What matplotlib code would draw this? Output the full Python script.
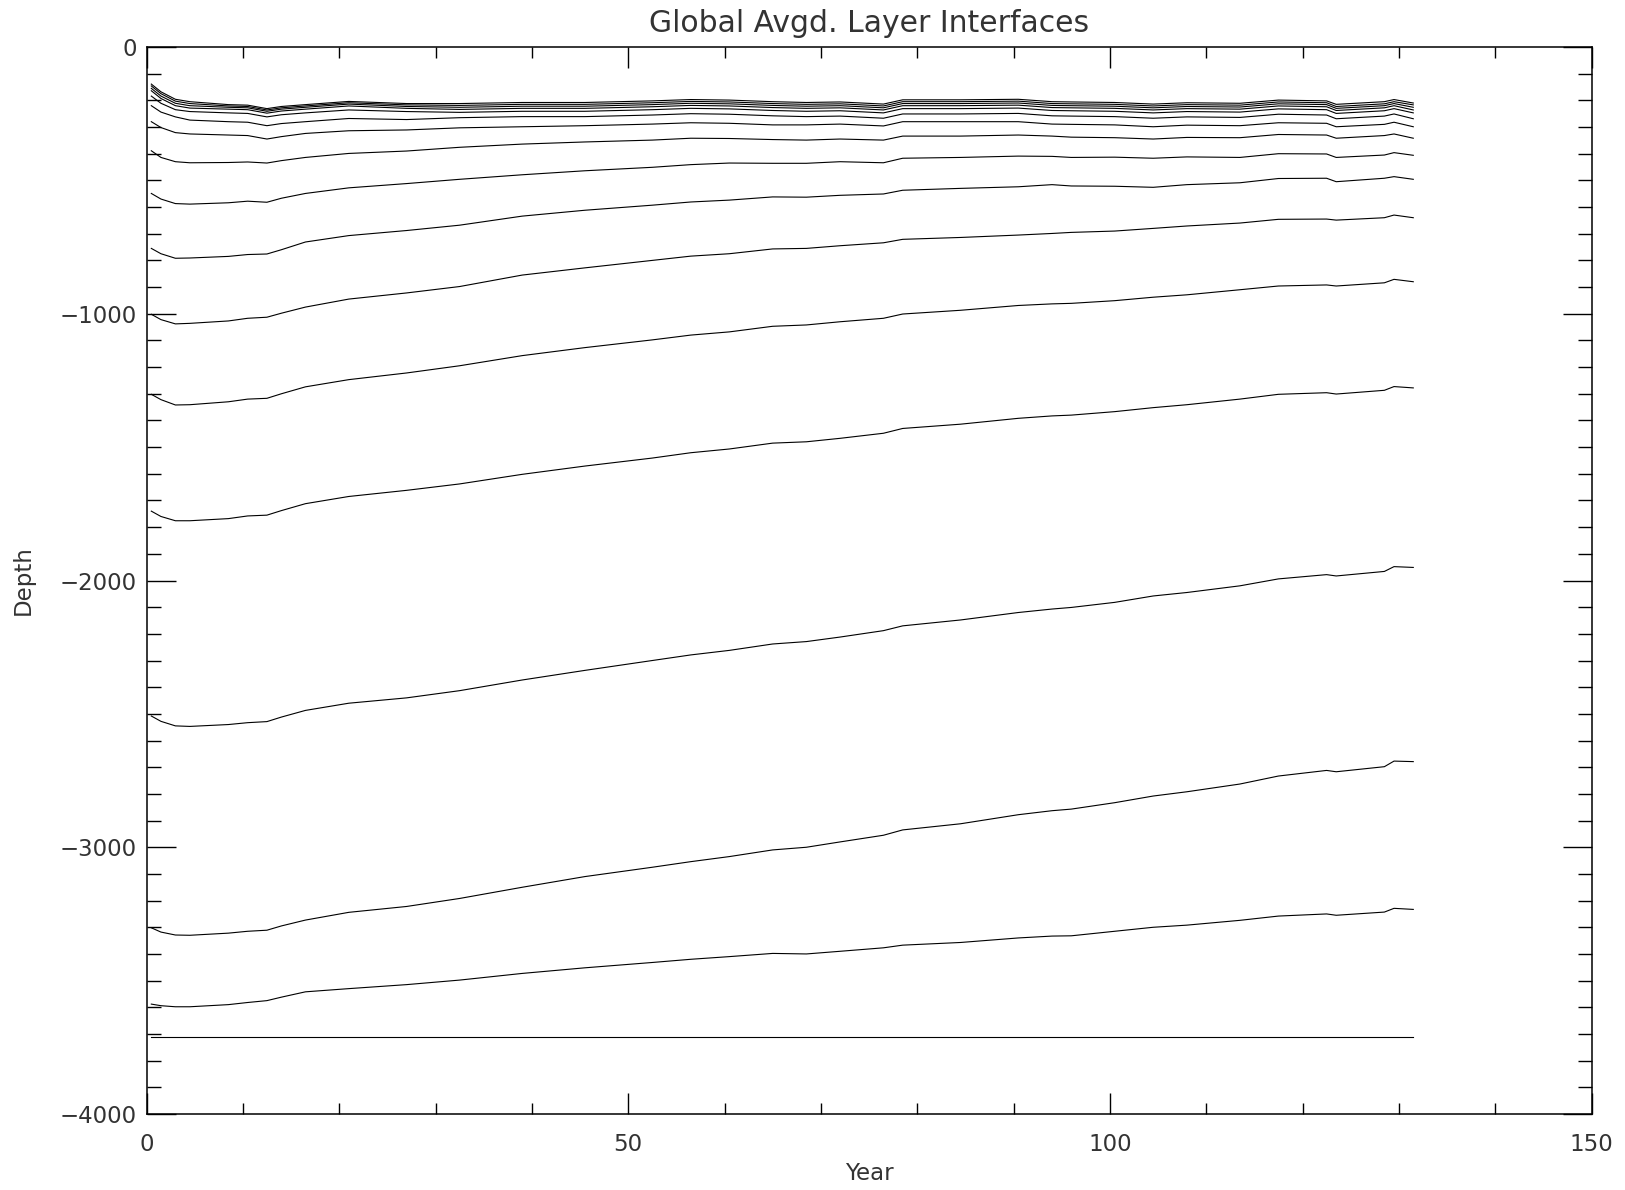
import matplotlib
matplotlib.use("Agg")
import matplotlib.pyplot as plt
from matplotlib.ticker import MultipleLocator

# model years (annual means) shared by all interfaces
years = [0.5, 1.5, 3, 4.5, 8.5, 10.5, 12.5, 14, 16.5, 21, 27, 32.5,
         39, 45.5, 52.5, 56.5, 60.5, 65, 68.5, 72, 76.5, 78.5, 84.5, 90.5,
         94, 96, 100.5, 104.5, 108, 113.5, 117.5, 122.5, 123.5, 128.5, 129.5, 131.5]

# interface depths (m), shallowest first
layer_01 = [-139, -168, -196, -205, -216, -218, -231, -223, -216, -204, -212, -212,
            -208, -208, -202, -197, -199, -205, -208, -206, -214, -198, -198, -196,
            -205, -206, -208, -214, -209, -211, -199, -202, -215, -205, -197, -210]
layer_02 = [-146, -175, -203, -212, -221, -223, -236, -228, -221, -209, -217, -219,
            -215, -215, -209, -204, -206, -212, -215, -213, -221, -205, -205, -203,
            -212, -213, -215, -221, -216, -218, -206, -209, -223, -213, -205, -217]
layer_03 = [-155, -184, -211, -220, -226, -228, -241, -233, -226, -214, -223, -226,
            -222, -222, -216, -211, -213, -219, -222, -220, -228, -212, -212, -210,
            -219, -220, -222, -228, -223, -225, -213, -216, -230, -220, -212, -226]
layer_04 = [-164, -193, -220, -229, -233, -235, -248, -240, -233, -221, -230, -234,
            -230, -230, -224, -219, -221, -227, -230, -228, -236, -220, -220, -218,
            -227, -228, -230, -236, -231, -233, -221, -224, -238, -228, -220, -236]
layer_05 = [-184, -211, -235, -242, -247, -249, -262, -254, -247, -236, -242, -245,
            -241, -241, -235, -230, -232, -238, -241, -239, -247, -231, -231, -229,
            -238, -239, -241, -247, -242, -244, -232, -235, -249, -239, -231, -247]
layer_06 = [-220, -244, -262, -274, -280, -282, -295, -287, -280, -268, -272, -265,
            -261, -261, -255, -250, -252, -258, -261, -259, -267, -251, -251, -249,
            -258, -259, -261, -267, -262, -264, -252, -255, -269, -259, -251, -269]
layer_07 = [-280, -302, -321, -326, -330, -332, -345, -336, -324, -314, -311, -303,
            -299, -295, -289, -284, -286, -292, -292, -289, -296, -280, -280, -280,
            -289, -290, -292, -299, -293, -295, -284, -286, -299, -290, -282, -299]
layer_08 = [-389, -414, -430, -434, -433, -431, -435, -426, -414, -399, -390, -376,
            -364, -356, -349, -342, -343, -347, -349, -345, -349, -334, -334, -330,
            -334, -338, -340, -345, -339, -340, -328, -330, -342, -332, -326, -342]
layer_09 = [-549, -570, -587, -589, -584, -578, -582, -567, -549, -528, -512, -496,
            -479, -464, -451, -441, -435, -436, -436, -430, -434, -417, -414, -409,
            -410, -414, -413, -417, -412, -414, -400, -401, -414, -405, -396, -406]
layer_10 = [-755, -775, -792, -791, -785, -778, -776, -760, -731, -707, -688, -668,
            -634, -612, -593, -581, -574, -562, -563, -556, -551, -537, -530, -524,
            -516, -521, -522, -526, -516, -509, -493, -492, -505, -492, -486, -496]
layer_11 = [-1002, -1022, -1038, -1036, -1027, -1017, -1013, -998, -975, -945, -922, -898,
            -855, -828, -800, -784, -775, -757, -755, -745, -734, -721, -714, -705,
            -699, -695, -690, -680, -671, -660, -646, -645, -649, -640, -630, -640]
layer_12 = [-1302, -1322, -1342, -1341, -1330, -1320, -1317, -1300, -1274, -1247, -1222, -1195,
            -1157, -1127, -1098, -1080, -1068, -1047, -1042, -1030, -1017, -1001, -987, -969,
            -963, -961, -951, -938, -929, -910, -896, -892, -896, -884, -871, -880]
layer_13 = [-1740, -1760, -1776, -1776, -1768, -1758, -1755, -1738, -1712, -1685, -1662, -1638,
            -1602, -1571, -1541, -1521, -1507, -1485, -1480, -1467, -1448, -1430, -1414, -1392,
            -1383, -1380, -1367, -1352, -1341, -1320, -1302, -1296, -1301, -1287, -1273, -1278]
layer_14 = [-2508, -2528, -2545, -2547, -2540, -2533, -2529, -2512, -2487, -2460, -2440, -2413,
            -2373, -2337, -2300, -2279, -2262, -2238, -2229, -2212, -2188, -2170, -2148, -2120,
            -2107, -2101, -2082, -2058, -2045, -2020, -1994, -1978, -1983, -1966, -1948, -1951]
layer_15 = [-3302, -3318, -3329, -3330, -3322, -3315, -3311, -3295, -3273, -3244, -3222, -3192,
            -3150, -3110, -3075, -3054, -3035, -3010, -3000, -2980, -2955, -2935, -2912, -2878,
            -2863, -2857, -2833, -2808, -2792, -2763, -2733, -2712, -2717, -2698, -2677, -2679]
layer_16 = [-3588, -3594, -3598, -3598, -3590, -3582, -3575, -3562, -3542, -3530, -3515, -3498,
            -3473, -3452, -3432, -3420, -3410, -3398, -3400, -3390, -3377, -3367, -3357, -3340,
            -3333, -3332, -3315, -3300, -3292, -3274, -3258, -3250, -3255, -3243, -3229, -3233]

# sea floor (constant)
bottom_years = [0.5, 131.5]
bottom_depth = [-3713, -3713]

layers = [layer_01, layer_02, layer_03, layer_04, layer_05, layer_06, layer_07, layer_08,
          layer_09, layer_10, layer_11, layer_12, layer_13, layer_14, layer_15, layer_16]

text_color = "#333333"
plt.rcParams["font.family"] = ["DejaVu Sans"]

fig = plt.figure(figsize=(16.25, 11.9), dpi=100)
ax = fig.add_axes([146.5 / 1625, 1 - 1114 / 1190, 1445 / 1625, 1067 / 1190])

for depth in layers:
    ax.plot(years, depth, color="black", lw=0.8)
ax.plot(bottom_years, bottom_depth, color="black", lw=0.8)

ax.set_xlim(0, 150)
ax.set_ylim(-4000, 0)
ax.xaxis.set_major_locator(MultipleLocator(50))
ax.xaxis.set_minor_locator(MultipleLocator(10))
ax.yaxis.set_major_locator(MultipleLocator(1000))
ax.yaxis.set_minor_locator(MultipleLocator(100))

# IDL-like ticks: inward, on every side
ax.tick_params(which="both", direction="in", top=True, right=True,
               color="black", width=1.0, labelcolor=text_color, labelsize=16.5)
ax.tick_params(axis="x", which="major", length=15.1, pad=14)
ax.tick_params(axis="x", which="minor", length=7.9)
ax.tick_params(axis="y", which="major", length=20.9, pad=7)
ax.tick_params(axis="y", which="minor", length=10.4)
for spine in ax.spines.values():
    spine.set_linewidth(1.1)

ax.set_xlabel("Year", fontsize=16.5, color=text_color, labelpad=4)
ax.set_ylabel("Depth", fontsize=16.5, color=text_color, labelpad=18)
ax.text(0.5, 1 + 24 / 1067, "Global Avgd. Layer Interfaces", transform=ax.transAxes,
        ha="center", va="center", fontsize=21.5, color=text_color)

plt.savefig("out.png", dpi=100)
